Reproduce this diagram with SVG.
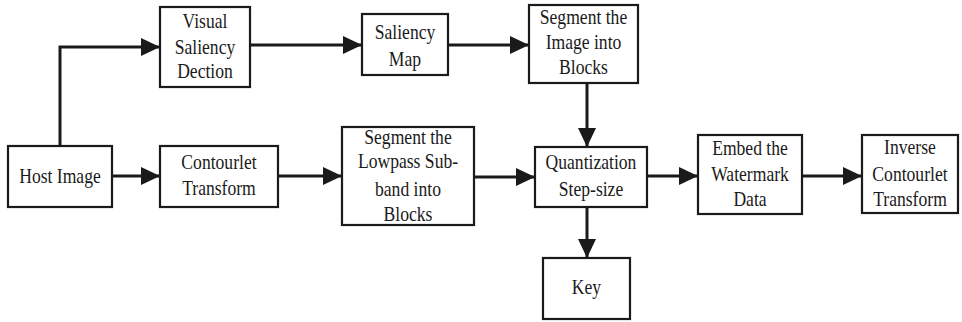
<svg xmlns="http://www.w3.org/2000/svg" width="962" height="322" viewBox="0 0 962 322">
<style>
.box{fill:#fff;stroke:#1a1a1a;stroke-width:2.2}
.c{fill:none;stroke:#1a1a1a;stroke-width:3}
.t{font-family:'Liberation Serif',serif;font-size:20px;fill:#1a1a1a;text-anchor:middle}
</style>
<defs>
<marker id="ah" markerUnits="userSpaceOnUse" markerWidth="19" markerHeight="18" refX="19" refY="9" orient="auto" viewBox="0 0 19 18">
<path d="M0,0 L19,9 L0,18 z" fill="#1a1a1a"/>
</marker>
</defs>
<rect width="962" height="322" fill="#fff"/>
<g id="connectors">
<polyline class="c" points="60,146 60,47 160,47" marker-end="url(#ah)"/>
<line class="c" x1="250" y1="45" x2="362" y2="45" marker-end="url(#ah)"/>
<line class="c" x1="448" y1="45" x2="529" y2="45" marker-end="url(#ah)"/>
<line class="c" x1="587" y1="83" x2="587" y2="147" marker-end="url(#ah)"/>
<line class="c" x1="112" y1="176" x2="160" y2="176" marker-end="url(#ah)"/>
<line class="c" x1="278" y1="176" x2="342" y2="176" marker-end="url(#ah)"/>
<line class="c" x1="474" y1="177" x2="535" y2="177" marker-end="url(#ah)"/>
<line class="c" x1="647" y1="176" x2="698" y2="176" marker-end="url(#ah)"/>
<line class="c" x1="802" y1="176" x2="862" y2="176" marker-end="url(#ah)"/>
<line class="c" x1="587" y1="207" x2="587" y2="258" marker-end="url(#ah)"/>
</g>
<g id="host">
<rect class="box" x="8" y="146" width="104" height="61"/>
<text class="t" x="60" y="183" transform="matrix(0.88 0 0 1 7.2 0)">Host Image</text>
</g>
<g id="visual">
<rect class="box" x="160" y="7" width="90" height="80"/>
<g transform="matrix(0.88 0 0 1 24.6 0)">
<text class="t" x="205" y="28">Visual</text>
<text class="t" x="205" y="54">Saliency</text>
<text class="t" x="205" y="78">Dection</text>
</g>
</g>
<g id="salmap">
<rect class="box" x="362" y="14" width="86" height="61"/>
<g transform="matrix(0.88 0 0 1 48.6 0)">
<text class="t" x="405" y="39">Saliency</text>
<text class="t" x="405" y="66">Map</text>
</g>
</g>
<g id="segimg">
<rect class="box" x="529" y="5" width="109" height="78"/>
<g transform="matrix(0.88 0 0 1 70.02 0)">
<text class="t" x="583.5" y="24">Segment the</text>
<text class="t" x="583.5" y="49">Image into</text>
<text class="t" x="583.5" y="74">Blocks</text>
</g>
</g>
<g id="contourlet">
<rect class="box" x="160" y="146" width="118" height="61"/>
<g transform="matrix(0.88 0 0 1 26.28 0)">
<text class="t" x="219" y="169">Contourlet</text>
<text class="t" x="219" y="195">Transform</text>
</g>
</g>
<g id="seglow">
<rect class="box" x="342" y="127" width="132" height="98"/>
<g transform="matrix(0.88 0 0 1 48.96 0)">
<text class="t" x="408" y="144">Segment the</text>
<text class="t" x="408" y="168">Lowpass Sub-</text>
<text class="t" x="408" y="196">band into</text>
<text class="t" x="408" y="221">Blocks</text>
</g>
</g>
<g id="quant">
<rect class="box" x="535" y="147" width="112" height="60"/>
<g transform="matrix(0.88 0 0 1 70.92 0)">
<text class="t" x="591" y="169">Quantization</text>
<text class="t" x="591" y="196">Step-size</text>
</g>
</g>
<g id="key">
<rect class="box" x="543" y="258" width="87" height="61"/>
<text class="t" x="586.5" y="294" transform="matrix(0.88 0 0 1 70.38 0)">Key</text>
</g>
<g id="embed">
<rect class="box" x="698" y="135" width="104" height="79"/>
<g transform="matrix(0.88 0 0 1 90 0)">
<text class="t" x="750" y="155">Embed the</text>
<text class="t" x="750" y="181">Watermark</text>
<text class="t" x="750" y="206">Data</text>
</g>
</g>
<g id="inverse">
<rect class="box" x="862" y="135" width="96" height="78"/>
<g transform="matrix(0.88 0 0 1 109.2 0)">
<text class="t" x="910" y="154">Inverse</text>
<text class="t" x="910" y="181">Contourlet</text>
<text class="t" x="910" y="206">Transform</text>
</g>
</g>
</svg>
